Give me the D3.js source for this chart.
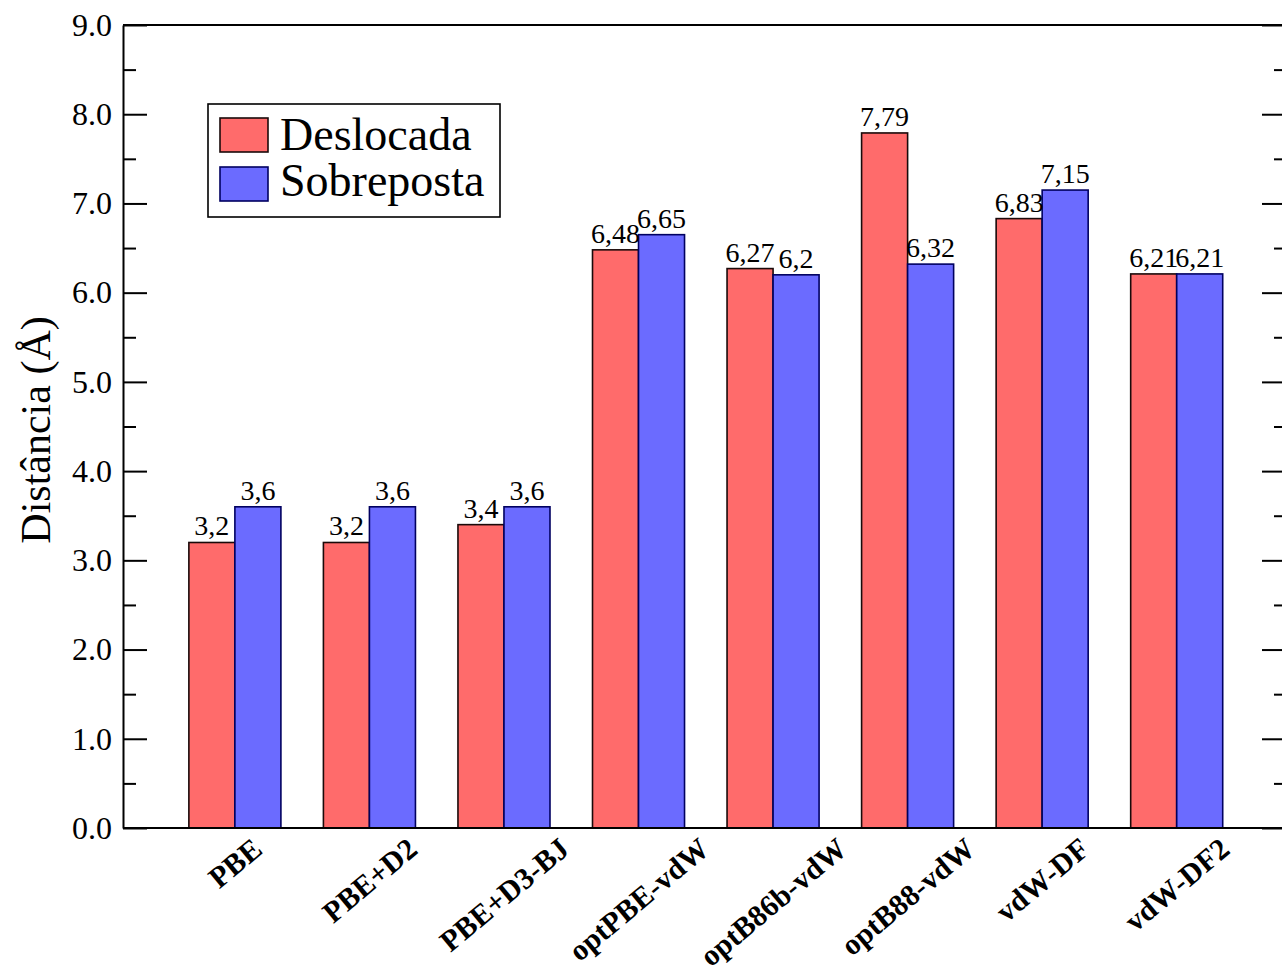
<!DOCTYPE html>
<html>
<head>
<meta charset="utf-8">
<script src="https://cdn.jsdelivr.net/npm/d3@7"></script>
<style>
  html, body { margin: 0; padding: 0; background: #fff; }
  svg { display: block; font-family: "Liberation Serif", "Times New Roman", serif; }
</style>
</head>
<body>
<svg id="chart" width="1282" height="974"></svg>
<script>
const categories = ["PBE", "PBE+D2", "PBE+D3-BJ", "optPBE-vdW", "optB86b-vdW", "optB88-vdW", "vdW-DF", "vdW-DF2"];
const seriesNames = ["Deslocada", "Sobreposta"];
const deslocada = [3.2, 3.2, 3.4, 6.48, 6.27, 7.79, 6.83, 6.21];
const sobreposta = [3.6, 3.6, 3.6, 6.65, 6.2, 6.32, 7.15, 6.21];
const deslocadaLabels = ["3,2", "3,2", "3,4", "6,48", "6,27", "7,79", "6,83", "6,21"];
const sobrepostaLabels = ["3,6", "3,6", "3,6", "6,65", "6,2", "6,32", "7,15", "6,21"];
const yMajorTicks = [0, 1, 2, 3, 4, 5, 6, 7, 8, 9];
const yMinorTicks = [0.5, 1.5, 2.5, 3.5, 4.5, 5.5, 6.5, 7.5, 8.5];
const yTitle = "Distância (Å)";

const colors = { "Deslocada": "#ff6b6b", "Sobreposta": "#6b6bff" };
const strokes = { "Deslocada": "#1a0a0a", "Sobreposta": "#000060" };

const svg = d3.select("#chart");
const pLeft = 123, pRight = 1286, pTop = 25, pBottom = 828;

const y = d3.scaleLinear().domain([0, 9]).range([pBottom, pTop]);
const x = d3.scaleBand().domain(categories).range([pLeft, pRight])
  .paddingInner(0.316).paddingOuter(0.48).align(0.51);
const xs = d3.scaleBand().domain(seriesNames).range([0, x.bandwidth()]).padding(0);

const data = categories.map((c, i) => ({
  cat: c,
  vals: [
    { s: "Deslocada", v: deslocada[i], lab: deslocadaLabels[i] },
    { s: "Sobreposta", v: sobreposta[i], lab: sobrepostaLabels[i] }
  ]
}));

// Bars
const g = svg.append("g");
const groups = g.selectAll("g.grp").data(data).join("g")
  .attr("class", "grp")
  .attr("transform", d => `translate(${x(d.cat)},0)`);

groups.selectAll("rect").data(d => d.vals).join("rect")
  .attr("x", d => xs(d.s))
  .attr("y", d => y(d.v))
  .attr("width", xs.bandwidth())
  .attr("height", d => y(0) - y(d.v))
  .attr("fill", d => colors[d.s])
  .attr("stroke", d => strokes[d.s])
  .attr("stroke-width", 1.6);

groups.selectAll("text.val").data(d => d.vals).join("text")
  .attr("class", "val")
  .attr("x", d => xs(d.s) + xs.bandwidth() / 2)
  .attr("y", d => y(d.v) - 7)
  .attr("text-anchor", "middle")
  .attr("font-size", 28)
  .attr("fill", "#000")
  .text(d => d.lab);

// Frame (top & right & bottom)
svg.append("line").attr("x1", pLeft).attr("x2", pRight).attr("y1", pTop).attr("y2", pTop)
  .attr("stroke", "#000").attr("stroke-width", 2);
svg.append("line").attr("x1", pRight).attr("x2", pRight).attr("y1", pTop).attr("y2", pBottom)
  .attr("stroke", "#000").attr("stroke-width", 2);
svg.append("line").attr("x1", pLeft).attr("x2", pRight).attr("y1", pBottom).attr("y2", pBottom)
  .attr("stroke", "#000").attr("stroke-width", 2);

// Left axis
const yAxis = d3.axisLeft(y).tickValues(yMajorTicks).tickSizeInner(-24).tickSizeOuter(0)
  .tickPadding(11).tickFormat(d3.format(".1f"));
const ya = svg.append("g").attr("transform", `translate(${pLeft},0)`).call(yAxis);
ya.select(".domain").attr("stroke-width", 2);
ya.selectAll(".tick line").attr("stroke-width", 2);
ya.selectAll(".tick text").attr("font-size", 32).attr("font-family", "Liberation Serif").attr("fill", "#000");

const yMinor = d3.axisLeft(y).tickValues(yMinorTicks).tickSizeInner(-13).tickSizeOuter(0).tickFormat("");
const ym = svg.append("g").attr("transform", `translate(${pLeft},0)`).call(yMinor);
ym.select(".domain").remove();
ym.selectAll(".tick line").attr("stroke-width", 2);

// Right axis (inward ticks)
const yR = d3.axisRight(y).tickValues(yMajorTicks).tickSizeInner(-24).tickSizeOuter(0).tickFormat("");
const yr = svg.append("g").attr("transform", `translate(${pRight},0)`).call(yR);
yr.select(".domain").remove();
yr.selectAll(".tick line").attr("stroke-width", 2);
const yRm = d3.axisRight(y).tickValues(yMinorTicks).tickSizeInner(-12).tickSizeOuter(0).tickFormat("");
const yrm = svg.append("g").attr("transform", `translate(${pRight},0)`).call(yRm);
yrm.select(".domain").remove();
yrm.selectAll(".tick line").attr("stroke-width", 2);

// X labels rotated
const angle = 40;
const rad = angle * Math.PI / 180;
const xFont = 30;
const xl = svg.append("g");
categories.forEach(c => {
  const t = xl.append("text")
    .attr("font-size", xFont)
    .attr("font-weight", "bold")
    .attr("text-anchor", "middle")
    .attr("dominant-baseline", "central")
    .attr("fill", "#000")
    .text(c);
  const L = t.node().getComputedTextLength();
  const h = xFont * 0.7;
  const cx = x(c) + x.bandwidth() / 2;
  const cy = 836 + (L * Math.sin(rad) + h * Math.cos(rad)) / 2;
  t.attr("transform", `translate(${cx},${cy}) rotate(${-angle})`);
});

// Y title
svg.append("text")
  .attr("transform", `translate(50,430) rotate(-90)`)
  .attr("text-anchor", "middle")
  .attr("font-size", 42)
  .attr("fill", "#000")
  .text(yTitle);

// Legend
const lg = svg.append("g");
lg.append("rect").attr("x", 208).attr("y", 104).attr("width", 292).attr("height", 113)
  .attr("fill", "#fff").attr("stroke", "#000").attr("stroke-width", 1.6);
seriesNames.forEach((s, i) => {
  lg.append("rect").attr("x", 220).attr("y", 118 + i * 49).attr("width", 48).attr("height", 34)
    .attr("fill", colors[s]).attr("stroke", strokes[s]).attr("stroke-width", 1.6);
  lg.append("text").attr("x", 280).attr("y", 150 + i * 46)
    .attr("font-size", 46).attr("fill", "#000").text(s);
});
</script>
</body>
</html>
